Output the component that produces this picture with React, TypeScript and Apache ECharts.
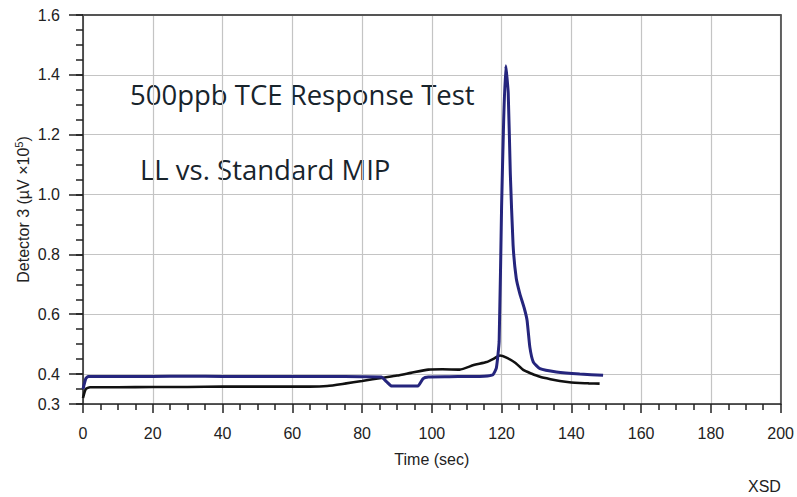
import React, { useEffect, useRef } from "react";
import * as echarts from "echarts";

const xTicks = [0, 20, 40, 60, 80, 100, 120, 140, 160, 180, 200];
const yMajorTicks = [0.3, 0.4, 0.6, 0.8, 1.0, 1.2, 1.4, 1.6];

const blueTime = [0, 0.8, 1.5, 10, 20, 30, 40, 50, 60, 70, 80, 85.5, 87, 88.5, 92, 96, 97.5, 99, 105, 110, 115, 117.5, 118.5, 119.3, 120, 120.6, 121.2, 121.9, 122.5, 123.3, 124.2, 125.2, 126.5, 127.3, 128.1, 129.1, 131, 135.7, 142.4, 149.1];
const blueValue = [0.35, 0.385, 0.392, 0.392, 0.392, 0.393, 0.392, 0.392, 0.392, 0.392, 0.391, 0.39, 0.375, 0.36, 0.36, 0.36, 0.385, 0.39, 0.391, 0.392, 0.393, 0.398, 0.42, 0.51, 0.96, 1.25, 1.43, 1.34, 1.07, 0.83, 0.72, 0.67, 0.62, 0.58, 0.49, 0.44, 0.418, 0.407, 0.4, 0.396];

const blackTime = [0, 0.8, 2, 10, 20, 30, 40, 50, 60, 65, 70, 75, 80, 86, 90, 94, 99, 103, 108, 112, 115.7, 117.5, 119.5, 121.4, 124, 126.2, 128.5, 131, 134, 136.7, 140, 142.4, 145, 148.1];
const blackValue = [0.32, 0.35, 0.356, 0.356, 0.357, 0.357, 0.358, 0.358, 0.358, 0.358, 0.36, 0.368, 0.377, 0.388, 0.395, 0.404, 0.415, 0.416, 0.415, 0.43, 0.44, 0.45, 0.462, 0.455, 0.437, 0.414, 0.402, 0.391, 0.383, 0.377, 0.372, 0.37, 0.369, 0.368];

const titleLine1 = "500ppb TCE Response Test";
const titleLine2 = "LL vs. Standard MIP";

const AXIS_FONT = "'Liberation Sans', Arial, sans-serif";

export default function App() {
  const ref = useRef<HTMLDivElement>(null);
  useEffect(() => {
    if (!ref.current) return;
    const chart = echarts.init(ref.current, null, { renderer: "svg" });
    const pairs = (t: number[], v: number[]) => t.map((x, i) => [x, v[i]]);
    chart.setOption({
      animation: false,
      backgroundColor: "#ffffff",
      grid: { left: 83, right: 16, top: 15, bottom: 93, containLabel: false },
      xAxis: [
        {
          type: "value",
          min: 0,
          max: 200,
          interval: 20,
          position: "bottom",
          name: "Time (sec)",
          nameLocation: "middle",
          nameGap: 47,
          nameMoveOverlap: false,
          nameTextStyle: { fontFamily: AXIS_FONT, fontSize: 16, color: "#222" },
          axisLine: { show: true, onZero: false, lineStyle: { color: "#222", width: 1.5 } },
          axisTick: { show: true, length: 9, lineStyle: { color: "#222", width: 1.5 } },
          minorTick: { show: true, splitNumber: 4, length: 6, lineStyle: { color: "#222", width: 1.5 } },
          axisLabel: { fontFamily: AXIS_FONT, fontSize: 16, color: "#222", margin: 21 },
          splitLine: { show: true, lineStyle: { color: "#c4c4c4", width: 1.2 } },
        },
        {
          type: "value",
          min: 0,
          max: 200,
          position: "top",
          axisLine: { show: true, onZero: false, lineStyle: { color: "#555", width: 1.8 } },
          axisTick: { show: false },
          axisLabel: { show: false },
          splitLine: { show: false },
        },
      ],
      yAxis: [
        {
          type: "value",
          min: 0.3,
          max: 1.6,
          position: "left",
          name: "Detector 3 (µV ×10{sup|5})",
          nameLocation: "middle",
          nameGap: 50,
          nameMoveOverlap: false,
          nameTextStyle: {
            fontFamily: AXIS_FONT,
            fontSize: 16,
            color: "#222",
            rich: { sup: { fontFamily: AXIS_FONT, fontSize: 11, color: "#222", verticalAlign: "top", padding: [0, 0, 9, 0] } },
          },
          axisLine: { show: true, onZero: false, lineStyle: { color: "#222", width: 1.5 } },
          axisTick: { show: true, length: 14, customValues: yMajorTicks, lineStyle: { color: "#222", width: 1.5 } },
          axisLabel: {
            fontFamily: AXIS_FONT,
            fontSize: 16,
            color: "#222",
            margin: 23,
            customValues: yMajorTicks,
            formatter: (v: number) => v.toFixed(1),
          },
          splitLine: { show: true, lineStyle: { color: "#c4c4c4", width: 1.2 } },
        },
        {
          type: "value",
          min: 0.3,
          max: 1.6,
          interval: 0.05,
          position: "left",
          axisLine: { show: false },
          axisTick: { show: true, length: 7, lineStyle: { color: "#222", width: 1.5 } },
          axisLabel: { show: false },
          splitLine: { show: false },
        },
        {
          type: "value",
          min: 0.3,
          max: 1.6,
          position: "right",
          axisLine: { show: true, onZero: false, lineStyle: { color: "#555", width: 1.8 } },
          axisTick: { show: false },
          axisLabel: { show: false },
          splitLine: { show: false },
        },
      ],
      series: [
        {
          type: "line",
          name: "Standard",
          data: pairs(blackTime, blackValue),
          showSymbol: false,
          smooth: 0.2,
          lineStyle: { color: "#111111", width: 2.6 },
          z: 3,
        },
        {
          type: "line",
          name: "LL",
          data: pairs(blueTime, blueValue),
          showSymbol: false,
          smooth: 0.15,
          lineStyle: { color: "#25257d", width: 3 },
          z: 4,
        },
      ],
      graphic: [
        {
          type: "text",
          left: 130,
          top: 80,
          style: { text: titleLine1, font: "27.5px 'Open Sans', sans-serif", fill: "#18242c" },
        },
        {
          type: "text",
          left: 140,
          top: 155,
          style: { text: titleLine2, font: "27.5px 'Open Sans', sans-serif", fill: "#18242c" },
        },
        {
          type: "text",
          left: 748,
          top: 478,
          style: { text: "XSD", font: "16px 'Liberation Sans', Arial, sans-serif", fill: "#222" },
        },
      ],
    });
    return () => chart.dispose();
  }, []);
  return <div ref={ref} style={{ width: 797, height: 497, position: "absolute", left: 0, top: 0 }} />;
}
